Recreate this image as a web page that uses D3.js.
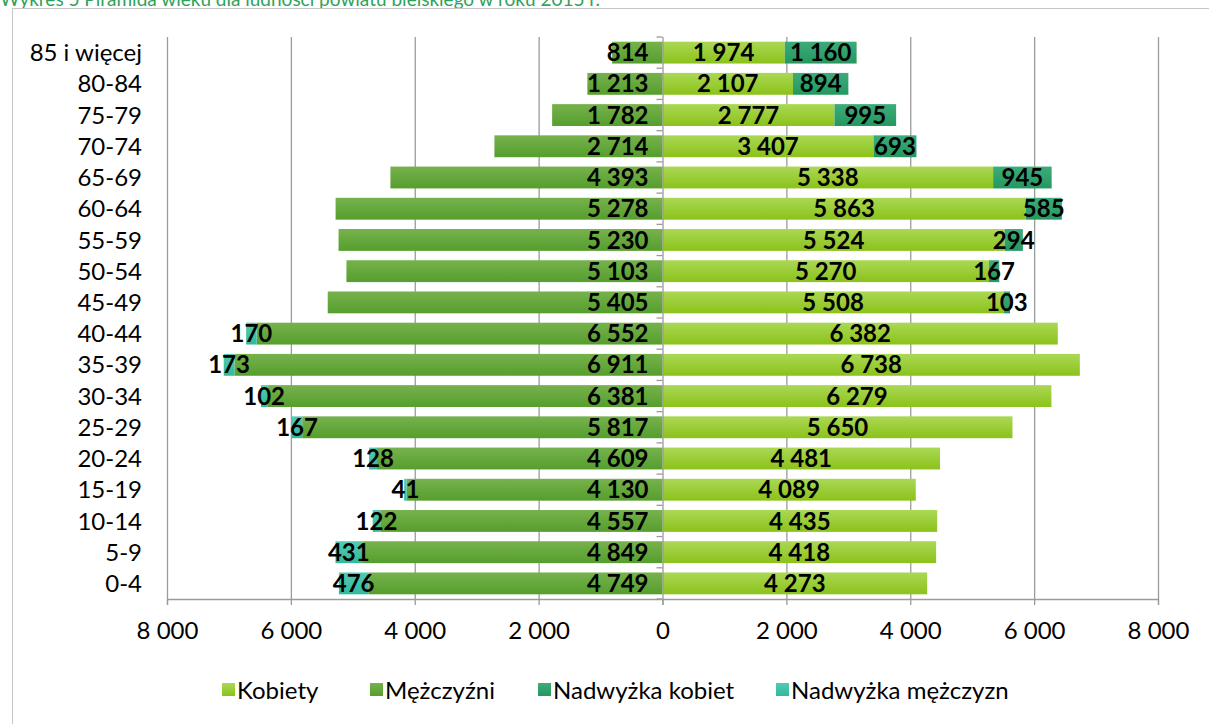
<!DOCTYPE html>
<html>
<head>
<meta charset="utf-8">
<script src="https://cdn.jsdelivr.net/npm/d3@7"></script>
<style>
  body { margin: 0; background: #fff; }
  svg { display: block; font-family: Lato, "Open Sans", sans-serif; }
</style>
</head>
<body>
<div id="chart"></div>
<script>
"use strict";

// data (bottom to top) *********************************************
var ageGroups = ["0-4", "5-9", "10-14", "15-19", "20-24", "25-29", "30-34", "35-39", "40-44",
  "45-49", "50-54", "55-59", "60-64", "65-69", "70-74", "75-79", "80-84", "85 i więcej"];
var kobiety = [4273, 4418, 4435, 4089, 4481, 5650, 6279, 6738, 6382,
  5508, 5270, 5524, 5863, 5338, 3407, 2777, 2107, 1974];
var mezczyzni = [4749, 4849, 4557, 4130, 4609, 5817, 6381, 6911, 6552,
  5405, 5103, 5230, 5278, 4393, 2714, 1782, 1213, 814];
var nadwyzkaKobiet = [0, 0, 0, 0, 0, 0, 0, 0, 0,
  103, 167, 294, 585, 945, 693, 995, 894, 1160];
var nadwyzkaMezczyzn = [476, 431, 122, 41, 128, 167, 102, 173, 170,
  0, 0, 0, 0, 0, 0, 0, 0, 0];
var xTicks = [-8000, -6000, -4000, -2000, 0, 2000, 4000, 6000, 8000];
var legendNames = ["Kobiety", "Mężczyźni", "Nadwyżka kobiet", "Nadwyżka mężczyzn"];

// sizes *********************************************
var width = 1209, height = 724;
var plotLeft = 167, plotRight = 1158, plotTop = 37, plotBottom = 599;
var fontSize = "24px";

var svg = d3.select("#chart").append("svg")
  .attr("width", width).attr("height", height);

// gradients
var defs = svg.append("defs");
var grads = [
  ["gK", "#abd855", "#8bc21a"],
  ["gM", "#77b24d", "#559e2d"],
  ["gNK", "#3dab7b", "#24985f"],
  ["gNM", "#52cbb3", "#32b99b"]
];
grads.forEach(function(g) {
  var lg = defs.append("linearGradient").attr("id", g[0])
    .attr("x1", 0).attr("y1", 0).attr("x2", 0).attr("y2", 1);
  lg.append("stop").attr("offset", "0%").attr("stop-color", g[1]);
  lg.append("stop").attr("offset", "100%").attr("stop-color", g[2]);
});

// title (cut at top) and frame
svg.append("text").attr("x", 0).attr("y", 6)
  .attr("fill", "#2ea35c").style("font-size", "19px")
  .text("Wykres 5 Piramida wieku dla ludności powiatu bielskiego w roku 2015 r.");
svg.append("rect").attr("x", 12.5).attr("y", 8.5)
  .attr("width", 1200).attr("height", 730)
  .attr("fill", "none").attr("stroke", "#c6c6c6");

// scales *********************************************
var x = d3.scaleLinear().domain([-8000, 8000]).range([plotLeft, plotRight]);
var y = d3.scaleBand().domain(ageGroups.slice().reverse())
  .range([plotTop, plotBottom]).paddingInner(0.3).paddingOuter(0.15);

// grid
svg.append("g").selectAll("line").data(xTicks.filter(function(d) { return d !== 0; }))
  .enter().append("line")
  .attr("x1", function(d) { return x(d) + 0.5; }).attr("x2", function(d) { return x(d) + 0.5; })
  .attr("y1", plotTop).attr("y2", plotBottom)
  .attr("stroke", "#9b9b9b").attr("stroke-width", 1.3);

// bottom axis
var xAxis = svg.append("g").attr("transform", "translate(0," + plotBottom + ")")
  .call(d3.axisBottom(x).tickValues(xTicks).tickSize(6).tickPadding(17)
    .tickFormat(function(d) { return d3.format(",")(Math.abs(d)).replace(/,/g, " "); }));
xAxis.select(".domain").attr("stroke", "#9b9b9b").attr("stroke-width", 1.3);
xAxis.selectAll(".tick line").attr("stroke", "#9b9b9b").attr("stroke-width", 1.3);
xAxis.selectAll("text").attr("fill", "#000").style("font-size", fontSize)
  .style("font-family", "Lato, sans-serif");

// bars *********************************************
var rows = ageGroups.map(function(a, i) {
  return { age: a, k: kobiety[i], m: mezczyzni[i], nk: nadwyzkaKobiet[i], nm: nadwyzkaMezczyzn[i] };
});

var bh = y.bandwidth();
var g = svg.append("g");

// men
g.selectAll(".m").data(rows).enter().append("rect")
  .attr("x", function(d) { return x(-d.m); })
  .attr("y", function(d) { return y(d.age); })
  .attr("width", function(d) { return x(0) - x(-d.m); })
  .attr("height", bh).attr("fill", "url(#gM)");
// men surplus
g.selectAll(".nm").data(rows.filter(function(d) { return d.nm > 0; })).enter().append("rect")
  .attr("x", function(d) { return x(-d.m - d.nm); })
  .attr("y", function(d) { return y(d.age); })
  .attr("width", function(d) { return x(-d.m) - x(-d.m - d.nm); })
  .attr("height", bh).attr("fill", "url(#gNM)");
// women
g.selectAll(".k").data(rows).enter().append("rect")
  .attr("x", x(0))
  .attr("y", function(d) { return y(d.age); })
  .attr("width", function(d) { return x(d.k) - x(0); })
  .attr("height", bh).attr("fill", "url(#gK)");
// women surplus
g.selectAll(".nk").data(rows.filter(function(d) { return d.nk > 0; })).enter().append("rect")
  .attr("x", function(d) { return x(d.k); })
  .attr("y", function(d) { return y(d.age); })
  .attr("width", function(d) { return x(d.k + d.nk) - x(d.k); })
  .attr("height", bh).attr("fill", "url(#gNK)");

// center axis with ticks
svg.append("line").attr("x1", x(0) + 0.5).attr("x2", x(0) + 0.5)
  .attr("y1", plotTop).attr("y2", plotBottom + 6)
  .attr("stroke", "#9b9b9b").attr("stroke-width", 1.3);
svg.append("g").selectAll("line").data(d3.range(ageGroups.length + 1)).enter().append("line")
  .attr("x1", x(0) - 6).attr("x2", x(0))
  .attr("y1", function(i) { return plotTop + i * (plotBottom - plotTop) / ageGroups.length; })
  .attr("y2", function(i) { return plotTop + i * (plotBottom - plotTop) / ageGroups.length; })
  .attr("stroke", "#9b9b9b").attr("stroke-width", 1.3);

// labels *********************************************
var fmt = function(v) { return d3.format(",")(v).replace(/,/g, " "); };
var labelStyle = function(sel) {
  sel.attr("dy", "0.36em").attr("fill", "#000")
    .style("font-size", fontSize).style("font-weight", "bold");
};
g.selectAll(".lm").data(rows).enter().append("text")
  .attr("x", x(0) - 14).attr("y", function(d) { return y(d.age) + bh / 2; })
  .attr("text-anchor", "end").text(function(d) { return fmt(d.m); }).call(labelStyle);
g.selectAll(".lk").data(rows).enter().append("text")
  .attr("x", function(d) { return (x(0) + x(d.k)) / 2; })
  .attr("y", function(d) { return y(d.age) + bh / 2; })
  .attr("text-anchor", "middle").text(function(d) { return fmt(d.k); }).call(labelStyle);
g.selectAll(".lnk").data(rows.filter(function(d) { return d.nk > 0; })).enter().append("text")
  .attr("x", function(d) { return (x(d.k) + x(d.k + d.nk)) / 2; })
  .attr("y", function(d) { return y(d.age) + bh / 2; })
  .attr("text-anchor", "middle").text(function(d) { return fmt(d.nk); }).call(labelStyle);
g.selectAll(".lnm").data(rows.filter(function(d) { return d.nm > 0; })).enter().append("text")
  .attr("x", function(d) { return (x(-d.m) + x(-d.m - d.nm)) / 2; })
  .attr("y", function(d) { return y(d.age) + bh / 2; })
  .attr("text-anchor", "middle").text(function(d) { return fmt(d.nm); }).call(labelStyle);

// category labels
svg.append("g").selectAll("text").data(ageGroups).enter().append("text")
  .attr("x", 142).attr("y", function(d) { return y(d) + bh / 2; })
  .attr("dy", "0.36em").attr("text-anchor", "end")
  .style("font-size", fontSize).attr("fill", "#000")
  .text(function(d) { return d; });

// legend *********************************************
var legendX = [222, 370, 538, 776];
var legendFill = ["url(#gK)", "url(#gM)", "url(#gNK)", "url(#gNM)"];
var legend = svg.append("g").selectAll("g").data(legendNames).enter().append("g")
  .attr("transform", function(d, i) { return "translate(" + legendX[i] + ",683)"; });
legend.append("rect").attr("width", 13).attr("height", 13)
  .attr("fill", function(d, i) { return legendFill[i]; });
legend.append("text").attr("x", 15).attr("y", 7).attr("dy", "0.36em")
  .style("font-size", fontSize).attr("fill", "#000")
  .text(function(d) { return d; });
</script>
</body>
</html>
